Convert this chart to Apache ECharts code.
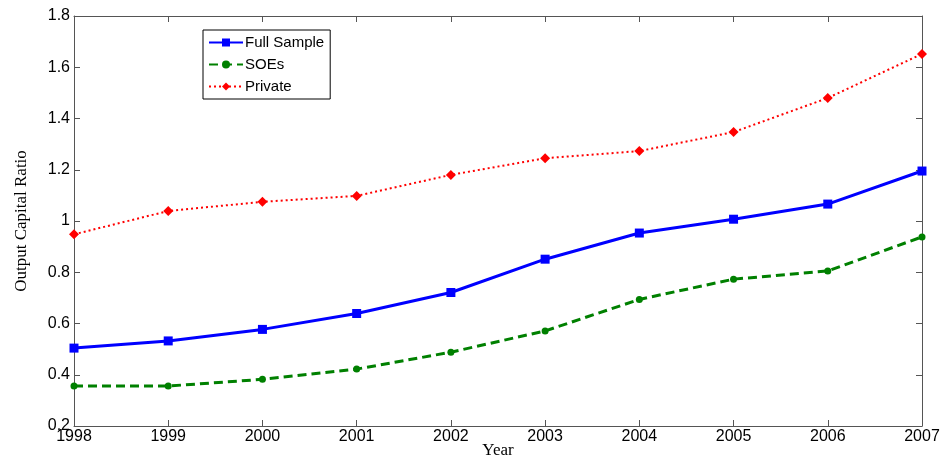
<!DOCTYPE html>
<html><head><meta charset="utf-8">
<script src="https://cdn.jsdelivr.net/npm/echarts@6/dist/echarts.min.js"></script>
<style>html,body{margin:0;padding:0;background:#fff}#c{width:944px;height:462px}</style>
</head><body><div id="c"></div>
<script>
var years = ['1998','1999','2000','2001','2002','2003','2004','2005','2006','2007'];
var fullSample = [0.504, 0.532, 0.577, 0.639, 0.721, 0.851, 0.953, 1.007, 1.066, 1.195];
var soes = [0.356, 0.356, 0.382, 0.422, 0.488, 0.571, 0.694, 0.773, 0.805, 0.938];
var privateFirms = [0.948, 1.039, 1.075, 1.098, 1.180, 1.245, 1.273, 1.347, 1.480, 1.652];
var yTicks = {min: 0.2, max: 1.8, interval: 0.2};

var chart = echarts.init(document.getElementById('c'));
var tickFont = {fontFamily: 'Liberation Sans, Arial', fontSize: 16, color: '#000'};
chart.setOption({
  animation: false,
  backgroundColor: '#fff',
  grid: {left: 74, right: 22, top: 16, bottom: 36, containLabel: false, outerBoundsMode: 'none'},
  legend: {
    left: 203, top: 30, orient: 'vertical',
    itemWidth: 34, itemHeight: 10, itemGap: 7,
    padding: [5, 6, 5, 5],
    borderColor: '#000', borderWidth: 1, backgroundColor: '#fff',
    textStyle: {fontFamily: 'Liberation Sans, Arial', fontSize: 15, color: '#000', padding: [0,0,0,-3]},
    data: ['Full Sample', 'SOEs', 'Private']
  },
  xAxis: [{
    type: 'category', data: years, boundaryGap: false,
    name: 'Year', nameLocation: 'middle', nameGap: 16, nameMoveOverlap: false,
    nameTextStyle: {fontFamily: 'Liberation Serif, Times New Roman', fontSize: 17, color: '#000'},
    axisLine: {lineStyle: {color: '#555', width: 1}},
    axisTick: {inside: true, length: 6, lineStyle: {color: '#555'}},
    axisLabel: Object.assign({margin: 3}, tickFont),
    splitLine: {show: false}
  }, {
    type: 'category', data: years, boundaryGap: false, position: 'top',
    axisLine: {lineStyle: {color: '#555', width: 1}},
    axisTick: {inside: true, length: 6, lineStyle: {color: '#555'}},
    axisLabel: {show: false}
  }],
  yAxis: [{
    type: 'value', min: yTicks.min, max: yTicks.max, interval: yTicks.interval,
    name: 'Output Capital Ratio', nameLocation: 'middle', nameGap: 44, nameMoveOverlap: false,
    nameTextStyle: {fontFamily: 'Liberation Serif, Times New Roman', fontSize: 17, color: '#000'},
    axisLine: {show: true, lineStyle: {color: '#555', width: 1}},
    axisTick: {show: true, inside: true, length: 6, lineStyle: {color: '#555'}},
    axisLabel: Object.assign({margin: 4, formatter: function(v){return String(parseFloat(v.toFixed(1)));}}, tickFont),
    splitLine: {show: false}
  }, {
    type: 'value', min: yTicks.min, max: yTicks.max, interval: yTicks.interval, position: 'right',
    axisLine: {show: true, lineStyle: {color: '#555', width: 1}},
    axisTick: {show: true, inside: true, length: 6, lineStyle: {color: '#555'}},
    axisLabel: {show: false}, splitLine: {show: false}
  }],
  series: [{
    name: 'Full Sample', type: 'line', data: fullSample,
    symbol: 'rect', symbolSize: 9, showAllSymbol: true,
    itemStyle: {color: '#0000FF'},
    lineStyle: {color: '#0000FF', width: 3}
  }, {
    name: 'SOEs', type: 'line', data: soes,
    symbol: 'circle', symbolSize: 7,
    itemStyle: {color: '#008000'},
    lineStyle: {color: '#008000', width: 3, type: [9, 5]}
  }, {
    name: 'Private', type: 'line', data: privateFirms,
    symbol: 'diamond', symbolSize: 10,
    itemStyle: {color: '#FF0000'},
    lineStyle: {color: '#FF0000', width: 2, type: [2, 3]}
  }]
});
</script></body></html>
